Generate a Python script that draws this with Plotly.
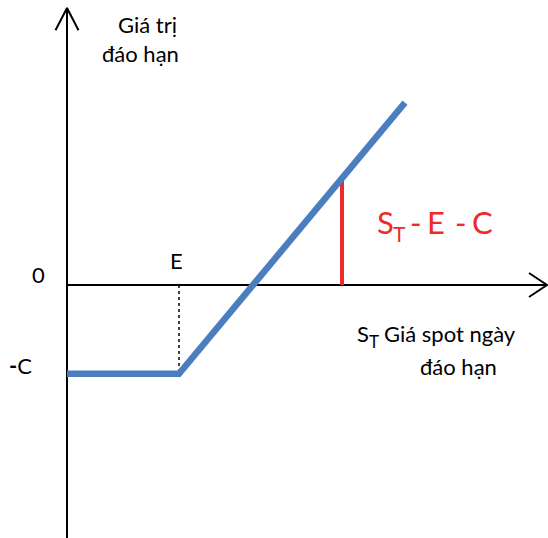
import plotly.graph_objects as go

# Payoff of a long call at expiry (schematic units)
strike_E = 112          # exercise price E
premium_C = 74          # premium paid C
spot_points = [0, strike_E, 338]                 # S_T
payoff_points = [-premium_C, -premium_C, 152]    # S_T - E - C (floored at -C)
spot_marked = 275                                # S_T where the gain is marked
gain_marked = 89                                 # S_T - E - C at that spot

FONT = "Lato"
W, H = 548, 538
X_RANGE = [-67, 481]
Y_RANGE = [-210.83, 237.5]
Y_TOP = 230.8
X_END = 480
RED = "#EE2A2A"

fig = go.Figure()

# axes as arrows
fig.add_trace(go.Scatter(x=[0, 0], y=[Y_RANGE[0], Y_TOP], mode="lines",
                         line=dict(color="black", width=2), hoverinfo="skip"))
fig.add_trace(go.Scatter(x=[-11.5, 0, 11.5], y=[Y_TOP - 18.5, Y_TOP, Y_TOP - 18.5],
                         mode="lines", line=dict(color="black", width=2), hoverinfo="skip"))
fig.add_trace(go.Scatter(x=[0, X_END], y=[0, 0], mode="lines",
                         line=dict(color="black", width=2), hoverinfo="skip"))
fig.add_trace(go.Scatter(x=[X_END - 18, X_END, X_END - 18], y=[10, 0, -10],
                         mode="lines", line=dict(color="black", width=2), hoverinfo="skip"))

# dotted guide down from E
fig.add_trace(go.Scatter(x=[strike_E, strike_E], y=[0, -premium_C], mode="lines",
                         line=dict(color="black", width=1.5, dash="dot"), hoverinfo="skip"))

# marked gain
fig.add_trace(go.Scatter(x=[spot_marked, spot_marked], y=[0, gain_marked], mode="lines",
                         line=dict(color=RED, width=4), hoverinfo="skip"))

# payoff line
fig.add_trace(go.Scatter(x=spot_points, y=payoff_points, mode="lines",
                         line=dict(color="#4A7EBF", width=6.5), hoverinfo="skip"))


def label(px, py, text, size=22, color="black", anchor="left", pad=1):
    fig.add_annotation(x=px / W, y=1 - py / H, xref="paper", yref="paper",
                       text=text, showarrow=False, borderpad=pad,
                       font=dict(family=FONT, size=size, color=color),
                       xanchor=anchor, yanchor="middle")


# y-axis title
label(147, 24, "Giá trị", anchor="center")
label(140, 53, "đáo hạn", anchor="center")
# reference levels
label(38, 274, "0", anchor="center")
label(176, 260, "E", anchor="center")
label(7, 365, "<b>-</b>C")
# gain label: S_T - E - C
label(376, 222, "S", size=31, color=RED, pad=0)
label(392, 234, "T", size=21, color=RED, pad=0)
label(409, 222, "-", size=31, color=RED, pad=0)
label(426, 222, "E", size=31, color=RED, pad=0)
label(454, 222, "-", size=31, color=RED, pad=0)
label(471, 222, "C", size=31, color=RED, pad=0)
# x-axis title
label(356, 333, "S", pad=0)
label(368, 341, "T", size=17, pad=0)
label(382, 333, "Giá spot ngày")
label(418, 366, "đáo hạn")

fig.update_layout(
    width=W, height=H,
    margin=dict(l=0, r=0, t=0, b=0),
    paper_bgcolor="white", plot_bgcolor="white",
    showlegend=False,
    xaxis=dict(range=X_RANGE, visible=False, fixedrange=True),
    yaxis=dict(range=Y_RANGE, visible=False, fixedrange=True),
)

fig.write_html("out.html")
